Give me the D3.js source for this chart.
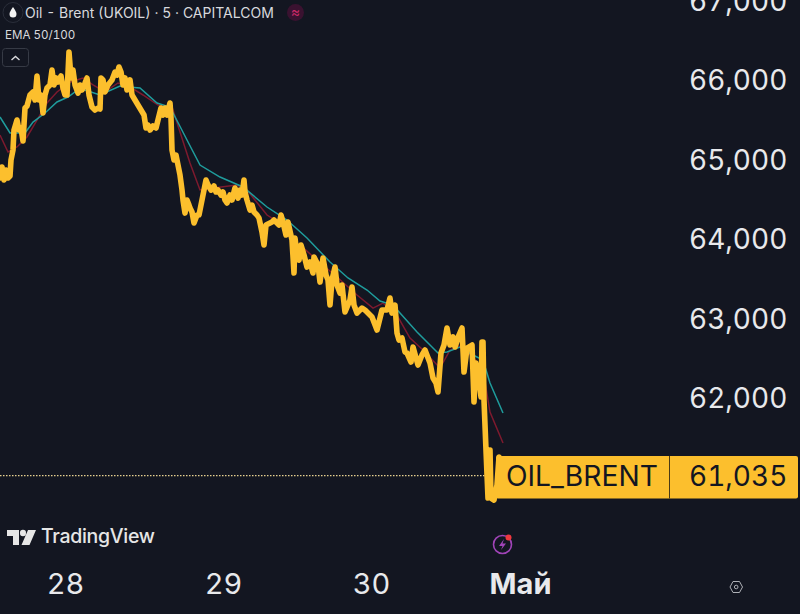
<!DOCTYPE html>
<html><head><meta charset="utf-8">
<script src="https://cdn.jsdelivr.net/npm/d3@7"></script>
<style>html,body{margin:0;padding:0;background:#131621;overflow:hidden}svg{display:block}text{font-family:Inter,"Noto Sans",sans-serif;font-variant-numeric:tabular-nums}</style>
</head><body><svg id="c" width="800" height="614"></svg>
<script>
const priceBars=[
0,4,8,12,16,20,22,26,28,34,38,42,46,50,54,60,66,70,74,78,82,86,90,94,100,104,108,112,116,122,126,130,134,138,142,146,150,156,160,164,170,174,178,184,190,196,200,
202,206,210,216,224,230,234,238,242,246,250,254,260,264,270,276,282,288,292,296,300,306,312,316,322,326,330,334,340,342,344,348,352,356,360,364,366,370,374,378,380,384,388,394,398,404,408,412,416,422,428,432,436,442,446,450,454,460,464,470,472,476,480,484,488,490,494,500,504,508,514,518,524,528,532,544,548,558,562,566,572,576,584,588,590,594,598,602,608,614,620,626,628,636,640,646,652,656,660,664,670,674,680,684,690,700,704,708,714,724,730,734,744,754,764,774,780,784,790,794,798,804,810,814,822,826,836,844,850,860,866,872,876,882,888,894,900,906,910,918,924,928,934,944,948,952,954,956,962,964,966,968,972,976,980,982,988,994,998
];
const priceVals=[
64780,64918,64755,64880,64780,64805,65006,65132,65384,65509,65384,65409,65245,65660,65685,65824,65862,65761,66063,65761,65824,65597,65824,65912,65950,66138,65950,66038,65987,66063,65912,65824,65824,66365,66038,66138,65950,65849,65950,65887,65975,66038,65824,65673,65635,65660,65648,
66038,66013,65862,65950,66013,66113,66075,66176,66113,65950,66038,65887,66013,65824,65761,65698,65635,65572,65409,65446,65384,65434,65409,65509,65660,65572,65660,65572,65723,65535,65132,65006,65069,64943,64817,64629,64503,64339,64503,64440,64402,64352,64214,64314,64314,64503,64629,64755,64692,64629,64679,64604,64629,64566,64604,64503,64465,64566,64503,64654,64604,64528,64629,64566,64755,64604,64503,64377,64440,64352,64314,64277,64100,63937,64189,64226,64251,64189,64314,64226,64063,64226,64000,63585,64025,63811,63748,63937,63811,63660,63723,63585,63786,63685,63471,63773,63560,63497,63182,63497,63660,63434,63333,63434,63094,63245,63409,63182,63081,63144,63119,63094,63031,62868,63119,63119,63270,63081,63182,62830,62742,62767,62591,62578,62465,62654,62427,62553,62616,62452,62264,62201,62088,62578,62679,62893,62679,62780,62654,62805,62893,62339,62641,62679,61962,62452,62239,62390,62025,62717,62717,61987,61358,60754,61358,60754,60729,60918,61270,61270
];
const emaFastBars=[0,20,50,66,90,114,136,150,170,200,240,256,280,314,340,374,400,440,486,534,574,614,660,696,734,760,786,800,834,860,876,894,920,946,966,980,1006];
const emaFastVals=[65547,65346,65346,65484,65597,65736,65799,65862,65887,65824,65937,65925,65912,65723,65673,65258,64943,64792,64667,64415,64251,64025,63723,63522,63371,63232,63182,63081,62842,62679,62578,62591,62654,62553,62490,62201,61824];
const emaSlowBars=[0,16,34,54,74,94,114,140,166,186,210,236,260,286,316,344,360,380,400,426,474,494,534,560,590,600,634,674,714,746,766,796,820,846,880,900,918,946,966,980,1006];
const emaSlowVals=[65321,65107,65170,65296,65509,65723,65862,65987,66038,65950,65862,65975,65925,65824,65698,65673,65358,64968,64629,64654,64692,64629,64314,64214,63962,63937,63748,63534,63308,63144,63207,63031,62767,62616,62390,62616,62666,62528,62365,61836,61446];
const xTicks=[130,446,742,1040];
const xLabels=["28","29","30","Май"];
const yTicks=[67000,66000,65000,64000,63000,62000];
const lastPrice=61035;

const svg=d3.select("#c");
const x=d3.scaleLinear().domain([0,1600]).range([0,800]);
const y=d3.scaleLinear().domain([67019,60000]).range([0,558]);
const line=(bars,vals)=>d3.line().x((d,i)=>x(bars[i])).y(d=>y(d))(vals);

svg.append("rect").attr("width",800).attr("height",614).attr("fill","#131621");

svg.append("line").attr("x1",0).attr("x2",486).attr("y1",y(lastPrice)).attr("y2",y(lastPrice))
  .attr("stroke","#e6d08f").attr("stroke-width",1.2).attr("stroke-dasharray","1.5 1.5");

svg.append("path").attr("d",line(emaSlowBars,emaSlowVals)).attr("fill","none").attr("stroke","#7d1a2e").attr("stroke-width",1.5);
svg.append("path").attr("d",line(emaFastBars,emaFastVals)).attr("fill","none").attr("stroke","#1f9c9c").attr("stroke-width",1.5);
svg.append("path").attr("d",line(priceBars,priceVals.slice(0,priceBars.length))).attr("fill","none").attr("stroke","#fcbf2d").attr("stroke-width",5.6).attr("stroke-linejoin","round").attr("stroke-linecap","round");

const ya=d3.axisRight(y).tickValues(yTicks).tickSize(0).tickPadding(0).tickFormat(d3.format(","));
svg.append("g").attr("transform","translate(689,0)").call(ya).call(g=>g.select(".domain").remove())
  .selectAll("text").attr("fill","#e8e9ec").attr("font-size",28).style("font-family","Inter");

const xa=d3.axisBottom(x).tickValues(xTicks).tickSize(0).tickPadding(0).tickFormat((d,i)=>xLabels[i]);
svg.append("g").attr("transform","translate(0,573)").call(xa).call(g=>g.select(".domain").remove())
  .selectAll("text").attr("fill","#e8e9ec").attr("font-size",29).attr("font-weight",(d,i)=>i==3?700:400).style("font-family","Inter");

const tagY=y(lastPrice);
svg.append("rect").attr("x",496).attr("y",456).attr("width",302).attr("height",42.5).attr("rx",2).attr("fill","#fcbf2d");
svg.append("line").attr("x1",669.5).attr("x2",669.5).attr("y1",456).attr("y2",498.5).attr("stroke","#4a3a14").attr("stroke-width",1);
svg.append("text").attr("x",506).attr("y",tagY+10).attr("font-size",28.2).attr("fill","#131621").text("OIL_BRENT");
svg.append("text").attr("x",689).attr("y",tagY+10).attr("font-size",28).attr("fill","#131621").text(d3.format(",")(lastPrice));

svg.append("circle").attr("cx",13).attr("cy",12.5).attr("r",10).attr("fill","none").attr("stroke","#2a2e3a").attr("stroke-width",1);
svg.append("path").attr("d","M13 7 C15 10 16.5 12 16.5 14 A3.5 3.5 0 0 1 9.5 14 C9.5 12 11 10 13 7Z").attr("fill","#f2f2f2");
svg.append("text").attr("x",25).attr("y",18).attr("font-size",14).attr("fill","#d8d9dd").text("Oil - Brent (UKOIL) · 5 · CAPITALCOM");
svg.append("circle").attr("cx",295.5).attr("cy",12.5).attr("r",8.5).attr("fill","#3a1230");
svg.append("text").attr("x",295.5).attr("y",17).attr("text-anchor","middle").attr("font-size",14).attr("fill","#d02a6a").text("≈");
svg.append("text").attr("x",5).attr("y",39).attr("font-size",11.6).attr("fill","#d8d9dd").text("EMA 50/100");
svg.append("rect").attr("x",2.5).attr("y",48.5).attr("width",26).attr("height",18).attr("rx",3).attr("fill","none").attr("stroke","#363a45");
svg.append("path").attr("d","M11.5 60 L15.5 56.5 L19.5 60").attr("fill","none").attr("stroke","#d8d9dd").attr("stroke-width",1.4);

svg.append("path").attr("d","M7 530 H19 V545 H13 V536 H7Z M20 533 A3 3 0 1 1 25.99 533 A3 3 0 1 1 20 533 M28 530 H36 L29.5 545 H21.5Z").attr("fill","#e6e6e6");
svg.append("text").attr("x",41).attr("y",543).attr("font-size",19.5).attr("font-weight",500).attr("letter-spacing",-0.3).attr("fill","#e6e6e6").text("TradingView");

svg.append("circle").attr("cx",502.5).attr("cy",544.5).attr("r",9).attr("fill","none").attr("stroke","#a144b8").attr("stroke-width",1.6);
svg.append("path").attr("d","M504 539 L499 546 H502.5 L501 550 L506 543.5 H502.5Z").attr("fill","#a144b8");
svg.append("circle").attr("cx",508.5).attr("cy",537.5).attr("r",3).attr("fill","#f0383f");

svg.append("path").attr("d","M733 581.5 H739.5 L742.5 587 L739.5 592.5 H733 L730 587Z").attr("fill","none").attr("stroke","#aeb0b6").attr("stroke-width",1);
svg.append("circle").attr("cx",736.2).attr("cy",587).attr("r",1.8).attr("fill","none").attr("stroke","#aeb0b6").attr("stroke-width",1);
</script></body></html>
